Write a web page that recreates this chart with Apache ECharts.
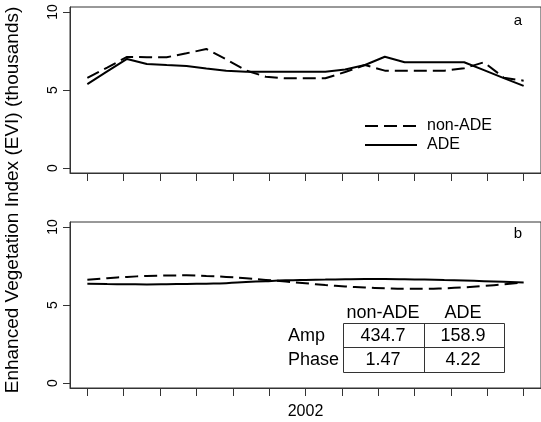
<!DOCTYPE html>
<html>
<head>
<meta charset="utf-8">
<script src="https://cdn.jsdelivr.net/npm/echarts@6/dist/echarts.min.js"></script>
<style>
html,body{margin:0;padding:0;background:#fff;}
#chart{width:541px;height:422px;}
</style>
</head>
<body>
<div id="chart"></div>
<script>
// 16-day composite start days (day of year), 2002
const compositeDays = [1,17,33,49,65,81,97,113,129,145,161,177,193,209,225,241,257,273,289,305,321,337,353];
// Panel a: observed EVI (thousands)
const nonADE_a = [5.77,6.44,7.12,7.10,7.10,7.35,7.63,6.97,6.25,5.85,5.75,5.75,5.75,6.15,6.60,6.24,6.24,6.24,6.24,6.39,6.78,5.79,5.60];
const ADE_a    = [5.38,6.19,6.99,6.67,6.60,6.54,6.38,6.23,6.17,6.17,6.17,6.17,6.17,6.31,6.60,7.13,6.78,6.78,6.78,6.78,6.27,5.76,5.26];
// Panel b: fitted harmonic curves
const nonADE_b = [6.62,6.72,6.80,6.86,6.89,6.90,6.86,6.80,6.71,6.61,6.50,6.39,6.28,6.19,6.12,6.07,6.04,6.04,6.07,6.13,6.22,6.33,6.45];
const ADE_b    = [6.36,6.34,6.33,6.32,6.33,6.35,6.37,6.40,6.47,6.53,6.58,6.61,6.63,6.65,6.66,6.66,6.65,6.63,6.60,6.57,6.53,6.49,6.45];
// Axis ticks
const xTicks = [1,30.33,59.67,89,118.33,147.67,177,206.33,235.67,265,294.33,323.67,353];
const xLabelTick = [177];
const xLabelText = '2002';
const yTicks = [0,5,10];
// Table
const tableCols = ['non-ADE','ADE'];
const tableRows = ['Amp','Phase'];
const ampVals = ['434.7','158.9'];
const phaseVals = ['1.47','4.22'];
const panelLabels = ['a','b'];
const seriesNames = ['non-ADE','ADE'];

const FONT = '"Liberation Sans", Arial, Helvetica, sans-serif';
const chart = echarts.init(document.getElementById('chart'), null, {renderer:'canvas'});

function pairs(xs, ys){ return xs.map((x,i)=>[x, ys[i]]); }

const grids = [
  {left:70, top:7, right:-3, height:166, show:true, borderColor:'#333', borderWidth:1, backgroundColor:'transparent'},
  {left:70, top:222, right:-3, height:166, show:true, borderColor:'#333', borderWidth:1, backgroundColor:'transparent'}
];

function xAxis(gi, withLabel){
  return {
    type:'value', gridIndex:gi, min:-13, max:367,
    axisLine:{show:true, onZero:false, lineStyle:{color:'#333', width:1}},
    axisTick:{show:true, customValues:xTicks, length:8, lineStyle:{color:'#333', width:1}},
    axisLabel:{show:withLabel, customValues:xLabelTick, formatter:()=>xLabelText, margin:16, color:'#000', fontFamily:FONT, fontSize:16},
    splitLine:{show:false}
  };
}
function yAxis(gi){
  return {
    type:'value', gridIndex:gi, min:-0.32, max:10.32,
    axisLine:{show:true, onZero:false, lineStyle:{color:'#333', width:1}},
    axisTick:{show:true, customValues:yTicks, length:7, lineStyle:{color:'#333', width:1}},
    axisLabel:{show:true, customValues:yTicks, rotate:90, margin:10, color:'#000', fontFamily:FONT, fontSize:14},
    splitLine:{show:false}
  };
}

const dashed = {color:'#000', width:2, type:[13,6]};
const solid = {color:'#000', width:2, type:'solid'};

function txt(x, y, text, size, align){
  return {type:'text', x:x, y:y, style:{text:text, font:size+'px '+FONT, fill:'#000', textAlign:align||'center', textVerticalAlign:'middle'}};
}

const option = {
  animation:false,
  backgroundColor:'#fff',
  grid: grids,
  xAxis:[xAxis(0,false), xAxis(1,true)],
  yAxis:[yAxis(0), yAxis(1)],
  legend:{show:false},
  series:[
    {name:seriesNames[0], type:'line', xAxisIndex:0, yAxisIndex:0, data:pairs(compositeDays,nonADE_a), showSymbol:false, symbol:'none', lineStyle:dashed, itemStyle:{color:'#000'}},
    {name:seriesNames[1], type:'line', xAxisIndex:0, yAxisIndex:0, data:pairs(compositeDays,ADE_a), showSymbol:false, symbol:'none', lineStyle:solid, itemStyle:{color:'#000'}},
    {name:seriesNames[0], type:'line', xAxisIndex:1, yAxisIndex:1, data:pairs(compositeDays,nonADE_b), smooth:true, showSymbol:false, symbol:'none', lineStyle:dashed, itemStyle:{color:'#000'}},
    {name:seriesNames[1], type:'line', xAxisIndex:1, yAxisIndex:1, data:pairs(compositeDays,ADE_b), smooth:true, showSymbol:false, symbol:'none', lineStyle:solid, itemStyle:{color:'#000'}}
  ],
  graphic:[
    {type:'text', x:13, y:200, rotation:Math.PI/2, style:{text:'Enhanced Vegetation Index (EVI) (thousands)', font:'19px '+FONT, fill:'#000', textAlign:'center', textVerticalAlign:'middle'}},
    txt(518, 21, panelLabels[0], 15),
    txt(518, 234, panelLabels[1], 15),
    // legend
    {type:'line', shape:{x1:365, y1:126, x2:417, y2:126}, style:{stroke:'#000', lineWidth:2, lineDash:[13,6]}},
    {type:'line', shape:{x1:365, y1:145, x2:417, y2:145}, style:{stroke:'#000', lineWidth:2}},
    txt(427, 126, seriesNames[0], 16, 'left'),
    txt(427, 145, seriesNames[1], 16, 'left'),
    // table
    txt(383, 313, tableCols[0], 18),
    txt(463, 313, tableCols[1], 18),
    {type:'rect', shape:{x:343.5, y:323.5, width:161, height:49}, style:{fill:'none', stroke:'#333', lineWidth:1}},
    {type:'line', shape:{x1:343.5, y1:347.5, x2:504.5, y2:347.5}, style:{stroke:'#333', lineWidth:1}},
    {type:'line', shape:{x1:424.5, y1:323.5, x2:424.5, y2:372.5}, style:{stroke:'#333', lineWidth:1}},
    txt(288, 336, tableRows[0], 18, 'left'),
    txt(288, 360, tableRows[1], 18, 'left'),
    txt(383, 336, ampVals[0], 18),
    txt(463, 336, ampVals[1], 18),
    txt(383, 360, phaseVals[0], 18),
    txt(463, 360, phaseVals[1], 18)
  ]
};
chart.setOption(option);
</script>
</body>
</html>
